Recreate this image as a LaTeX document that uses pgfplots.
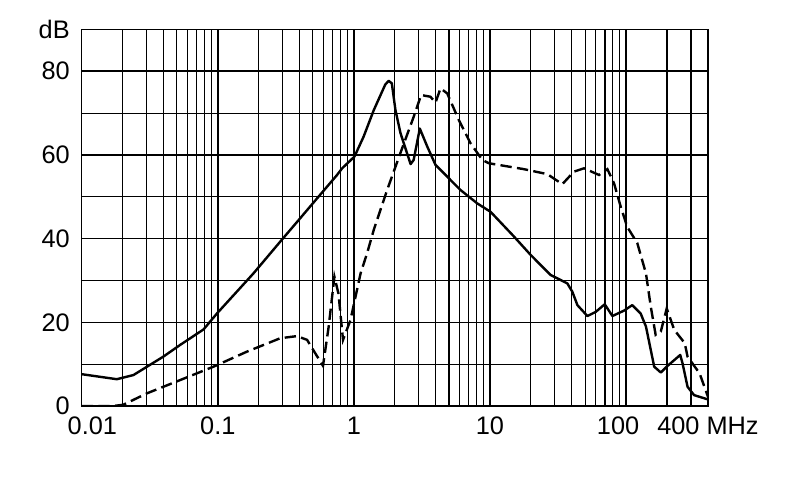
\documentclass[border=0pt]{standalone}
\usepackage{fontspec}
\setmainfont{Liberation Sans}
\usepackage{pgfplots}
\pgfplotsset{compat=1.18}

\begin{document}
\begin{tikzpicture}
\useasboundingbox (-61.3pt,-55.5pt) rectangle (531.2pt,304.5pt);
\begin{axis}[
    at={(0pt,0pt)}, anchor=south west,
    scale only axis,
    width=469.7pt, height=282.5pt,
    xmode=log,
    xmin=0.01, xmax=400,
    ymin=0, ymax=90,
    xtick={0.01,0.1,1,10,100,400},
    xticklabels={\hspace*{16pt}0.01,0.1,1,10,100\hspace*{12pt},400 MHz},
    minor xtick={0.02,0.03,0.04,0.05,0.06,0.07,0.08,0.09,
                 0.2,0.3,0.4,0.5,0.6,0.7,0.8,0.9,
                 2,3,4,5,6,7,8,9,
                 20,30,40,50,60,70,80,90,200,300},
    ytick={0,20,40,60,80,90},
    yticklabels={0,20,40,60,80,dB},
    minor ytick={10,30,50,70},
    xmajorgrids, xminorgrids, ymajorgrids, yminorgrids,
    major grid style={black, line width=1.1pt},
    minor grid style={black, line width=0.8pt},
    major tick length=0pt, minor tick length=0pt,
    axis line style={black, line width=1pt},
    /pgf/number format/assume math mode=true,
    tick label style={font=\fontsize{19}{22}\selectfont, inner sep=0pt},
    xticklabel style={anchor=north, yshift=-8pt},
    yticklabel style={anchor=east, xshift=-8.8pt},
]

% solid curve
\addplot[black, line width=1.8pt, line join=round] coordinates {
    (0.01,7.6) (0.0181,6.4) (0.024,7.4) (0.0398,11.8) (0.0529,14.6)
    (0.0786,18.3) (0.0985,22.1) (0.183,31.7) (0.288,39.3) (0.392,44.4)
    (0.536,49.6) (0.752,55.2) (0.82,56.8) (1.01,59.6) (1.18,64.4)
    (1.40,70.7) (1.70,76.8) (1.80,77.7) (1.90,77.1) (2.02,70.7) (2.20,65.2)
    (2.61,57.8) (2.75,58.8) (3.05,66.3) (3.46,62.0) (3.98,57.6)
    (4.85,54.8) (6.08,51.6) (8.07,48.4) (10.1,46.4) (15.0,40.5)
    (19.9,36.1) (27.9,31.3) (37.0,29.3) (40.3,27.3) (43.9,24.1)
    (52.0,21.5) (59.9,22.5) (69.7,24.3) (79.4,21.5) (96.7,22.8)
    (111,24.1) (128,22.1) (140,19.0) (161,9.4) (180,8.0) (202,9.6)
    (250,12.2) (260,10.2) (283,4.6) (316,2.6) (397,1.6)
};

% dashed curve
\addplot[black, line width=1.8pt, dash pattern=on 8.5pt off 4pt] coordinates {
    (0.01,0) (0.017,0) (0.0202,0.3) (0.030,3.0) (0.0529,6.2)
    (0.093,9.4) (0.164,13.0) (0.288,16.2) (0.382,16.7) (0.453,15.8)
    (0.52,12.6) (0.593,9.6) (0.653,19.0) (0.719,30.9) (0.77,26.9)
    (0.832,15.8) (0.943,20.5) (1.12,31.7) (1.25,36.5) (1.40,42.1)
    (1.75,51.5) (2.20,60.5) (2.75,69.1) (3.12,74.3) (3.65,73.9)
    (3.98,72.5) (4.33,75.9) (4.85,74.7) (5.91,68.3) (7.19,62.8)
    (8.78,58.8) (9.82,58.0) (17.7,56.6) (26.4,55.4) (34.0,53.0)
    (41.4,56.0) (49.1,56.8) (63.3,55.2) (72.9,56.6) (81.6,53.2)
    (91.4,47.6) (102,42.8) (121,38.9) (140,31.7) (152,23.7)
    (165,17.0) (180,17.8) (199,23.3) (226,18.2) (270,15.0)
    (283,11.8) (347,7.8) (400,2.2)
};

\end{axis}
\end{tikzpicture}
\end{document}
